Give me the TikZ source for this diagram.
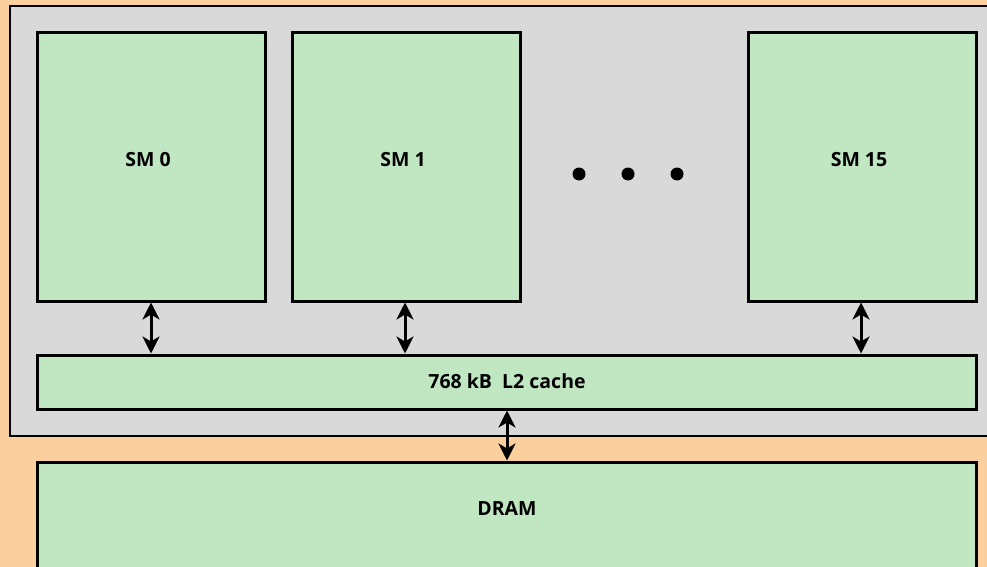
\documentclass[tikz,border=0pt]{standalone}
\usepackage{fontspec}
\setmainfont{Open Sans}
\usetikzlibrary{arrows.meta}
\definecolor{bgorange}{HTML}{FCCF9E}
\definecolor{chipgray}{HTML}{D9D9D9}
\definecolor{smgreen}{HTML}{C0E6C2}
\tikzset{
  unitbox/.style={draw=black, line width=3pt, fill=smgreen, inner sep=0pt},
  boxlabel/.style={font=\fontsize{19.5}{22}\selectfont\bfseries},
  bus/.style={line width=3pt, {Stealth[length=17pt,width=17pt,inset=5pt]}-{Stealth[length=17pt,width=17pt,inset=5pt]}},
}
\begin{document}
\begin{tikzpicture}[x=1pt,y=-1pt]
\useasboundingbox (0,0) rectangle (987,567);
\fill[bgorange] (0,0) rectangle (987,567);
\draw[fill=chipgray, line width=2pt] (10,6) rectangle (995,436);
% SM boxes
\draw[unitbox] (37,33) rectangle (265,301);
\draw[unitbox] (292,33) rectangle (520,301);
\draw[unitbox] (748,33) rectangle (976,301);
\node[boxlabel] (sm0) at (148,160) {SM 0};
\node[boxlabel] (sm1) at (403,160) {SM 1};
\node[boxlabel] (sm15) at (859,160) {SM 15};
% L2
\draw[unitbox] (37,355) rectangle (976,409);
\node[boxlabel] (l2) at (507,381) {768 kB\ \ L2 cache};
% DRAM
\draw[unitbox] (37,462) rectangle (976,580);
\node[boxlabel] (dram) at (507,509) {DRAM};
% dots
\fill (579,174) circle (6.5);
\fill (628,174) circle (6.5);
\fill (677,174) circle (6.5);
% connectors
\coordinate (a0t) at (151,302.5); \coordinate (a0b) at (151,353.5);
\coordinate (a1t) at (405,302.5); \coordinate (a1b) at (405,353.5);
\coordinate (a2t) at (861,302.5); \coordinate (a2b) at (861,353.5);
\coordinate (a3t) at (507,410.5); \coordinate (a3b) at (507,460.5);
\draw[bus] (a0t) -- (a0b);
\draw[bus] (a1t) -- (a1b);
\draw[bus] (a2t) -- (a2b);
\draw[bus] (a3t) -- (a3b);
\end{tikzpicture}
\end{document}
